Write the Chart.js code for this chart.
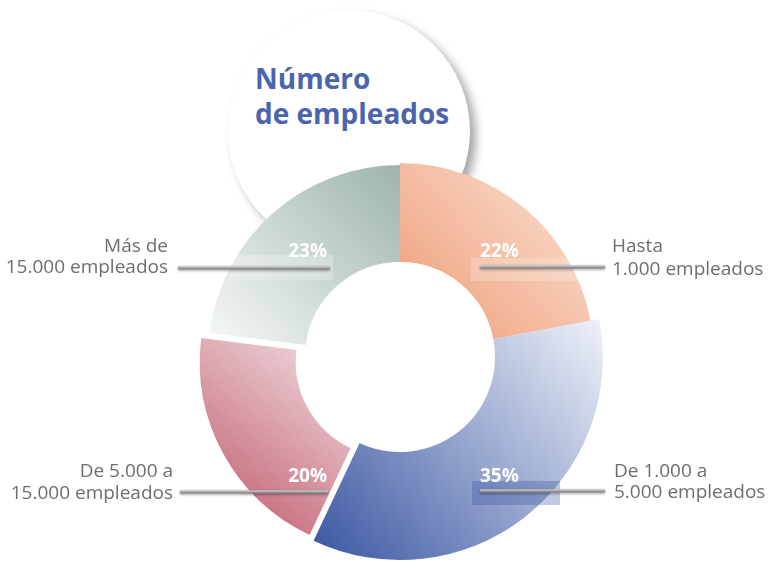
<!DOCTYPE html>
<html lang="es">
<head>
  <meta charset="UTF-8">
  <title>Número de empleados</title>
  <script src="https://cdn.jsdelivr.net/npm/chart.js"></script>
  <style>
    html, body { margin: 0; padding: 0; background: #fff; }
    body {
      width: 770px;
      height: 569px;
      position: relative;
      overflow: hidden;
      font-family: 'Open Sans', Arial, sans-serif;
    }
    .title-circle {
      position: absolute;
      left: 228px;
      top: 10px;
      width: 242px;
      height: 242px;
      border-radius: 50%;
      background: #fff;
      box-shadow: 6px 6px 10px rgba(0,0,0,0.35);
    }
    .title-circle h1 {
      position: absolute;
      left: 27px;
      top: 51px;
      margin: 0;
      font-size: 28px;
      line-height: 35px;
      font-weight: 700;
      color: #4a64ad;
      white-space: nowrap;
    }
    #chart { position: absolute; left: 0; top: 0; }
  </style>
</head>
<body>
  <div class="title-circle"><h1>Número<br>de empleados</h1></div>
  <canvas id="chart" width="770" height="569"></canvas>
  <script>
    // datos
    const categoryLines = [
      ['Hasta', '1.000 empleados'],
      ['De 1.000 a', '5.000 empleados'],
      ['De 5.000 a', '15.000 empleados'],
      ['Más de', '15.000 empleados']
    ];
    const shares = [22, 35, 20, 23];

    // estilo de cada sector
    const outerRadii = [194, 203, 191, 192];
    const innerRadius = 95;
    const offsets = [0, 0, 40, 0];
    // [abajo-izquierda, arriba-derecha]
    const gradientStops = [
      ['#ee9b75', '#fbe4d8'],
      ['#3a56a2', '#eff2f9'],
      ['#bd5466', '#f4e3e7'],
      ['#f7f9f8', '#9db4ab']
    ];
    // posición de etiquetas respecto al centro
    const labelLayout = [
      { side: 'right', lineX: [80, 205], lineY: -90, textX: 212, textY: [-105, -82], pctX: 80, pctY: -100, box: [71, -99, 109, 23], boxColor: 'rgba(255,255,255,0.22)' },
      { side: 'right', lineX: [80, 205], lineY: 134, textX: 214, textY: [120, 141], pctX: 80, pctY: 125, box: [72, 124, 88, 24], boxColor: 'rgba(45,75,155,0.3)' },
      { side: 'left', lineX: [-220, -72], lineY: 135, textX: -227, textY: [120, 142], pctX: -73, pctY: 125, box: null },
      { side: 'left', lineX: [-222, -70], lineY: -89, textX: -232, textY: [-105, -84], pctX: -73, pctY: -100, box: [-170, -102, 103, 25], boxColor: 'rgba(255,255,255,0.25)' }
    ];

    const shapePlugin = {
      id: 'shape',
      afterDatasetsUpdate(chart) {
        chart.getDatasetMeta(0).data.forEach((arc, i) => {
          arc.outerRadius = outerRadii[i];
          arc.innerRadius = innerRadius;
        });
      },
      beforeDatasetsDraw(chart) {
        const ctx = chart.ctx;
        chart.getDatasetMeta(0).data.forEach((arc, i) => {
          const xs = [], ys = [];
          for (let k = 0; k <= 12; k++) {
            const a = arc.startAngle + (arc.endAngle - arc.startAngle) * k / 12;
            [arc.innerRadius, arc.outerRadius].forEach(r => {
              xs.push(arc.x + Math.cos(a) * r);
              ys.push(arc.y + Math.sin(a) * r);
            });
          }
          const g = ctx.createLinearGradient(Math.min(...xs), Math.max(...ys), Math.max(...xs), Math.min(...ys));
          g.addColorStop(0, gradientStops[i][0]);
          g.addColorStop(1, gradientStops[i][1]);
          arc.options = Object.assign({}, arc.options, { backgroundColor: g });
        });
      },
      afterDatasetsDraw(chart) {
        const ctx = chart.ctx;
        const meta = chart.getDatasetMeta(0);
        const cx = meta.data[0].x, cy = meta.data[0].y;
        labelLayout.forEach((L, i) => {
          ctx.save();
          if (L.box) {
            ctx.fillStyle = L.boxColor;
            ctx.fillRect(cx + L.box[0], cy + L.box[1], L.box[2], L.box[3]);
          }
          // línea guía
          ctx.shadowColor = 'rgba(0,0,0,0.45)';
          ctx.shadowBlur = 3;
          ctx.shadowOffsetY = 1;
          ctx.strokeStyle = '#8e8e8e';
          ctx.lineWidth = 3;
          ctx.beginPath();
          ctx.moveTo(cx + L.lineX[0], cy + L.lineY);
          ctx.lineTo(cx + L.lineX[1], cy + L.lineY);
          ctx.stroke();
          ctx.shadowColor = 'transparent';
          ctx.strokeStyle = '#dcdcdc';
          ctx.lineWidth = 1;
          ctx.beginPath();
          ctx.moveTo(cx + L.lineX[0], cy + L.lineY - 1);
          ctx.lineTo(cx + L.lineX[1], cy + L.lineY - 1);
          ctx.stroke();
          // porcentaje
          ctx.fillStyle = '#ffffff';
          ctx.font = "bold 19px 'Open Sans', Arial, sans-serif";
          ctx.textAlign = L.side === 'right' ? 'left' : 'right';
          ctx.textBaseline = 'alphabetic';
          ctx.fillText(shares[i] + '%', cx + L.pctX, cy + L.pctY);
          // categoría
          ctx.fillStyle = '#6e6e6e';
          ctx.font = "19px 'Open Sans', Arial, sans-serif";
          ctx.textAlign = L.side === 'right' ? 'left' : 'right';
          categoryLines[i].forEach((t, k) => ctx.fillText(t, cx + L.textX, cy + L.textY[k]));
          ctx.restore();
        });
      }
    };

    new Chart(document.getElementById('chart').getContext('2d'), {
      type: 'doughnut',
      data: {
        labels: categoryLines.map(l => l.join(' ')),
        datasets: [{
          data: shares,
          backgroundColor: gradientStops.map(s => s[0]),
          borderWidth: 0,
          offset: offsets
        }]
      },
      options: {
        responsive: false,
        animation: false,
        radius: 210,
        cutout: '45%',
        layout: { padding: { left: 200, right: 170, top: 150, bottom: 5 } },
        plugins: { legend: { display: false }, tooltip: { enabled: false } }
      },
      plugins: [shapePlugin]
    });
  </script>
</body>
</html>
